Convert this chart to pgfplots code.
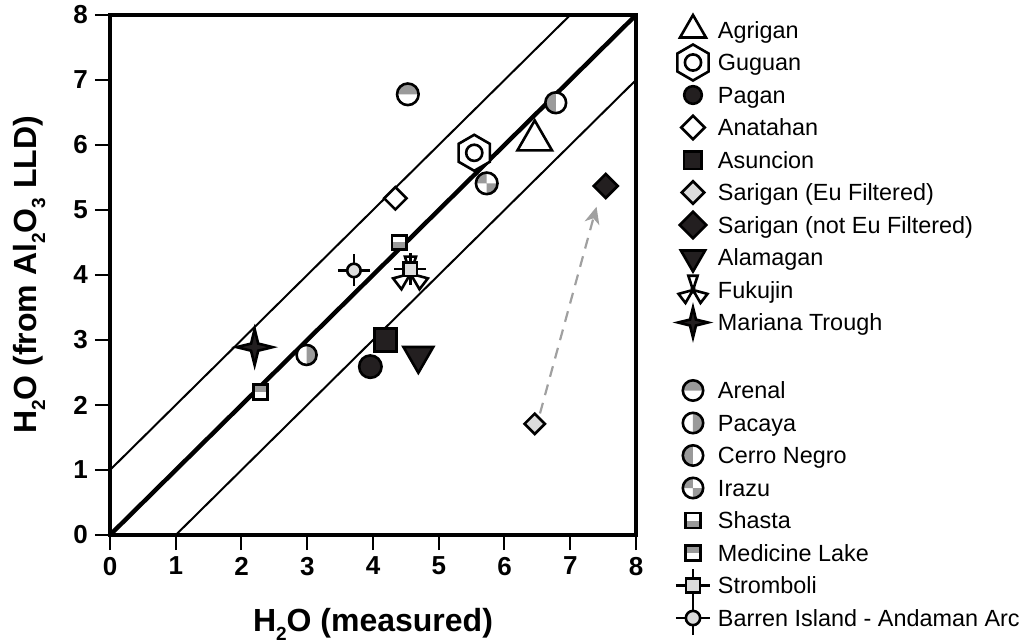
\documentclass[border=0pt]{standalone}
\usepackage{fontspec}
\setmainfont{Liberation Sans}
\usepackage{pgfplots}
\pgfplotsset{compat=1.18}
\usetikzlibrary{arrows.meta}

\definecolor{mgray}{HTML}{9A9A9A}
\definecolor{lgray}{HTML}{DCDCDC}
\definecolor{dblack}{HTML}{231F20}
\definecolor{agray}{HTML}{A0A0A0}

\newcommand\lsub[1]{\raisebox{-4.2pt}{\fontsize{9.5}{9.5}\selectfont #1}}

% ---- custom marks ----
\pgfdeclareplotmark{halftop}{%
  \pgfpathcircle{\pgfpointorigin}{\pgfplotmarksize}\pgfusepathqfill
  \begin{pgfscope}\pgfsetfillcolor{mgray}%
  \pgfpathmoveto{\pgfpoint{\pgfplotmarksize}{0pt}}%
  \pgfpatharc{0}{180}{\pgfplotmarksize}\pgfpathclose\pgfusepathqfill
  \end{pgfscope}%
  \pgfpathcircle{\pgfpointorigin}{\pgfplotmarksize}\pgfusepathqstroke}
\pgfdeclareplotmark{halfright}{%
  \pgfpathcircle{\pgfpointorigin}{\pgfplotmarksize}\pgfusepathqfill
  \begin{pgfscope}\pgfsetfillcolor{mgray}%
  \pgfpathmoveto{\pgfpoint{0pt}{\pgfplotmarksize}}%
  \pgfpatharc{90}{-90}{\pgfplotmarksize}\pgfpathclose\pgfusepathqfill
  \end{pgfscope}%
  \pgfpathcircle{\pgfpointorigin}{\pgfplotmarksize}\pgfusepathqstroke}
\pgfdeclareplotmark{halfleft}{%
  \pgfpathcircle{\pgfpointorigin}{\pgfplotmarksize}\pgfusepathqfill
  \begin{pgfscope}\pgfsetfillcolor{mgray}%
  \pgfpathmoveto{\pgfpoint{0pt}{\pgfplotmarksize}}%
  \pgfpatharc{90}{270}{\pgfplotmarksize}\pgfpathclose\pgfusepathqfill
  \end{pgfscope}%
  \pgfpathcircle{\pgfpointorigin}{\pgfplotmarksize}\pgfusepathqstroke}
\pgfdeclareplotmark{quarters}{%
  \pgfpathcircle{\pgfpointorigin}{\pgfplotmarksize}\pgfusepathqfill
  \begin{pgfscope}\pgfsetfillcolor{mgray}%
  \pgfpathmoveto{\pgfpointorigin}\pgfpathlineto{\pgfpoint{0pt}{\pgfplotmarksize}}%
  \pgfpatharc{90}{180}{\pgfplotmarksize}\pgfpathclose
  \pgfpathmoveto{\pgfpointorigin}\pgfpathlineto{\pgfpoint{0pt}{-\pgfplotmarksize}}%
  \pgfpatharc{270}{360}{\pgfplotmarksize}\pgfpathclose\pgfusepathqfill
  \end{pgfscope}%
  \pgfpathcircle{\pgfpointorigin}{\pgfplotmarksize}\pgfusepathqstroke}
\pgfdeclareplotmark{sqbot}{%
  \pgfpathrectangle{\pgfpoint{-\pgfplotmarksize}{-\pgfplotmarksize}}{\pgfpoint{2\pgfplotmarksize}{2\pgfplotmarksize}}\pgfusepathqfill
  \begin{pgfscope}\pgfsetfillcolor{mgray}%
  \pgfpathrectangle{\pgfpoint{-\pgfplotmarksize}{-\pgfplotmarksize}}{\pgfpoint{2\pgfplotmarksize}{\pgfplotmarksize}}\pgfusepathqfill
  \end{pgfscope}%
  \pgfpathrectangle{\pgfpoint{-\pgfplotmarksize}{-\pgfplotmarksize}}{\pgfpoint{2\pgfplotmarksize}{2\pgfplotmarksize}}\pgfusepathqstroke}
\pgfdeclareplotmark{sqtop}{%
  \pgfpathrectangle{\pgfpoint{-\pgfplotmarksize}{-\pgfplotmarksize}}{\pgfpoint{2\pgfplotmarksize}{2\pgfplotmarksize}}\pgfusepathqfill
  \begin{pgfscope}\pgfsetfillcolor{mgray}%
  \pgfpathrectangle{\pgfpoint{-\pgfplotmarksize}{0pt}}{\pgfpoint{2\pgfplotmarksize}{\pgfplotmarksize}}\pgfusepathqfill
  \end{pgfscope}%
  \pgfpathrectangle{\pgfpoint{-\pgfplotmarksize}{-\pgfplotmarksize}}{\pgfpoint{2\pgfplotmarksize}{2\pgfplotmarksize}}\pgfusepathqstroke}
\pgfdeclareplotmark{hexo}{%
  \pgfpathmoveto{\pgfpointpolar{90}{\pgfplotmarksize}}%
  \pgfpathlineto{\pgfpointpolar{150}{\pgfplotmarksize}}%
  \pgfpathlineto{\pgfpointpolar{210}{\pgfplotmarksize}}%
  \pgfpathlineto{\pgfpointpolar{270}{\pgfplotmarksize}}%
  \pgfpathlineto{\pgfpointpolar{330}{\pgfplotmarksize}}%
  \pgfpathlineto{\pgfpointpolar{30}{\pgfplotmarksize}}%
  \pgfpathclose\pgfusepathqfillstroke
  \pgfpathcircle{\pgfpointorigin}{0.45\pgfplotmarksize}\pgfusepathqstroke}
\pgfdeclareplotmark{sqdiamond}{%
  \pgfpathmoveto{\pgfpoint{0pt}{\pgfplotmarksize}}%
  \pgfpathlineto{\pgfpoint{\pgfplotmarksize}{0pt}}%
  \pgfpathlineto{\pgfpoint{0pt}{-\pgfplotmarksize}}%
  \pgfpathlineto{\pgfpoint{-\pgfplotmarksize}{0pt}}%
  \pgfpathclose\pgfusepathqfillstroke}
\pgfdeclareplotmark{star4}{%
  \pgfpathmoveto{\pgfpointpolar{90}{\pgfplotmarksize}}%
  \pgfpathlineto{\pgfpointpolar{45}{0.28\pgfplotmarksize}}%
  \pgfpathlineto{\pgfpointpolar{0}{\pgfplotmarksize}}%
  \pgfpathlineto{\pgfpointpolar{-45}{0.28\pgfplotmarksize}}%
  \pgfpathlineto{\pgfpointpolar{-90}{\pgfplotmarksize}}%
  \pgfpathlineto{\pgfpointpolar{-135}{0.28\pgfplotmarksize}}%
  \pgfpathlineto{\pgfpointpolar{180}{\pgfplotmarksize}}%
  \pgfpathlineto{\pgfpointpolar{135}{0.28\pgfplotmarksize}}%
  \pgfpathclose\pgfusepathqfillstroke}
\pgfdeclareplotmark{fukujin}{%
  \pgfpathmoveto{\pgfpointorigin}%
  \pgfpathlineto{\pgfpointpolar{72}{\pgfplotmarksize}}%
  \pgfpathlineto{\pgfpointpolar{108}{\pgfplotmarksize}}\pgfpathclose
  \pgfpathmoveto{\pgfpointorigin}%
  \pgfpathlineto{\pgfpointpolar{195}{\pgfplotmarksize}}%
  \pgfpathlineto{\pgfpointpolar{240}{\pgfplotmarksize}}\pgfpathclose
  \pgfpathmoveto{\pgfpointorigin}%
  \pgfpathlineto{\pgfpointpolar{300}{\pgfplotmarksize}}%
  \pgfpathlineto{\pgfpointpolar{345}{\pgfplotmarksize}}\pgfpathclose
  \pgfusepathqfillstroke}
\pgfdeclareplotmark{crosssq}{%
  \begin{pgfscope}\pgfsetlinewidth{1.1pt}%
  \pgfpathmoveto{\pgfpoint{-\pgfplotmarksize}{0pt}}\pgfpathlineto{\pgfpoint{\pgfplotmarksize}{0pt}}%
  \pgfpathmoveto{\pgfpoint{0pt}{-\pgfplotmarksize}}\pgfpathlineto{\pgfpoint{0pt}{\pgfplotmarksize}}%
  \pgfusepathqstroke\end{pgfscope}%
  \pgfpathrectangle{\pgfpoint{-0.42\pgfplotmarksize}{-0.42\pgfplotmarksize}}{\pgfpoint{0.84\pgfplotmarksize}{0.84\pgfplotmarksize}}\pgfusepathqfillstroke}
\pgfdeclareplotmark{crosscirc}{%
  \begin{pgfscope}\pgfsetlinewidth{1.1pt}%
  \pgfpathmoveto{\pgfpoint{-\pgfplotmarksize}{0pt}}\pgfpathlineto{\pgfpoint{\pgfplotmarksize}{0pt}}%
  \pgfpathmoveto{\pgfpoint{0pt}{-\pgfplotmarksize}}\pgfpathlineto{\pgfpoint{0pt}{\pgfplotmarksize}}%
  \pgfusepathqstroke\end{pgfscope}%
  \pgfpathcircle{\pgfpointorigin}{0.42\pgfplotmarksize}\pgfusepathqfillstroke}

\tikzset{mo/.style={solid, draw=black, line width=1.3pt}}
\pgfplotsset{
  mk/.style={only marks, forget plot},
  lg/.style={only marks},
}

\begin{document}
\begin{tikzpicture}
\useasboundingbox (-55pt,-53.5pt) rectangle (459pt,267.5pt);
\begin{axis}[
  scale only axis, width=263pt, height=260pt,
  xmin=0, xmax=8, ymin=0, ymax=8,
  xtick={0,1,...,8}, ytick={0,1,...,8},
  tick align=outside, xtick pos=left, ytick pos=left,
  major tick length=7.5pt,
  every tick/.style={black, line width=1pt},
  axis line style={line width=2pt},
  ticklabel style={font=\fontsize{13}{15}\selectfont\bfseries},
  /pgf/number format/assume math mode=true,
  xlabel={H\lsub{2}O (measured)},
  ylabel={H\lsub{2}O (from Al\lsub{2}O\lsub{3} LLD)},
  xlabel style={at={(axis description cs:0.5,-0.186)}, anchor=base, font=\fontsize{16}{18}\selectfont\bfseries},
  ylabel style={at={(axis description cs:-0.1394,0.5)}, anchor=base, rotate=0, font=\fontsize{16}{18}\selectfont\bfseries},
  legend style={at={(1.1084,0.9923)}, anchor=north west, draw=none, fill=none,
    inner sep=0pt, outer sep=0pt, row sep=5.25pt, column sep=0pt,
    nodes={inner sep=0pt, text height=9.5pt, text depth=1.5pt, font=\fontsize{11.7}{13}\selectfont}},
  legend cell align=left,
  legend image code/.code={%
    \pgfpathrectangle{\pgfpoint{0pt}{-1pt}}{\pgfpoint{12.5pt}{2pt}}\pgfusepath{use as bounding box}%
    \draw[#1] plot coordinates {(0pt,0pt)};},
]
% reference lines
\addplot[forget plot, black, line width=2.2pt] coordinates {(0,0) (8,8)};
\addplot[forget plot, black, line width=1pt] coordinates {(0,1) (7,8)};
\addplot[forget plot, black, line width=1pt] coordinates {(1,0) (8,7)};
% arrow
\addplot[forget plot, agray, line width=1.1pt, dash pattern=on 5.5pt off 4pt,
  -{Stealth[length=8.5pt,width=7.5pt,inset=2.5pt]}] coordinates {(6.54,1.87) (7.40,5.05)};

% data
\addplot[mk, mark=triangle, mark size=10pt, mark options={mo, fill=white}] coordinates {(6.46,6.07)};
\addplot[mk, mark=hexo, mark size=9pt, mark options={mo, fill=white}] coordinates {(5.54,5.88)};
\addplot[mk, mark=*, mark size=5.6pt, mark options={mo, fill=dblack}] coordinates {(3.96,2.59)};
\addplot[mk, mark=sqdiamond, mark size=5.6pt, mark options={mo, fill=white}] coordinates {(4.34,5.18)};
\addplot[mk, mark=square*, mark size=5.6pt, mark options={mo, fill=dblack}] coordinates {(4.19,3.00)};
\addplot[mk, mark=sqdiamond, mark size=5.1pt, mark options={mo, fill=lgray}] coordinates {(6.46,1.71)};
\addplot[mk, mark=sqdiamond, mark size=6.0pt, mark options={mo, fill=dblack}] coordinates {(7.54,5.37)};
\addplot[mk, mark=triangle*, mark size=8.6pt, mark options={mo, fill=dblack, rotate=180}] coordinates {(4.69,2.76)};
\addplot[mk, mark=fukujin, mark size=9pt, mark options={mo, fill=white}] coordinates {(4.57,4.02)};
\addplot[mk, mark=star4, mark size=9pt, mark options={mo, fill=dblack}] coordinates {(2.20,2.89)};
\addplot[mk, mark=halftop, mark size=5.4pt, mark options={mo, fill=white}] coordinates {(4.53,6.78)};
\addplot[mk, mark=halfright, mark size=5.0pt, mark options={mo, fill=white}] coordinates {(2.99,2.77)};
\addplot[mk, mark=halfleft, mark size=5.2pt, mark options={mo, fill=white}] coordinates {(6.78,6.65)};
\addplot[mk, mark=quarters, mark size=5.4pt, mark options={mo, fill=white}] coordinates {(5.73,5.41)};
\addplot[mk, mark=sqbot, mark size=3.6pt, mark options={mo, fill=white}] coordinates {(4.40,4.50)};
\addplot[mk, mark=sqtop, mark size=3.6pt, mark options={mo, fill=white}] coordinates {(2.29,2.20)};
\addplot[mk, mark=crosssq, mark size=8pt, mark options={mo, fill=lgray}] coordinates {(4.57,4.09)};
\addplot[mk, mark=crosscirc, mark size=8pt, mark options={mo, fill=lgray}] coordinates {(3.71,4.07)};

% legend
\addlegendimage{lg, mark=triangle, mark size=7.5pt, mark options={mo, fill=white}}
\addlegendentry{Agrigan}
\addlegendimage{lg, mark=hexo, mark size=9pt, mark options={mo, fill=white}}
\addlegendentry{Guguan}
\addlegendimage{lg, mark=*, mark size=4.4pt, mark options={mo, fill=dblack}}
\addlegendentry{Pagan}
\addlegendimage{lg, mark=sqdiamond, mark size=5.9pt, mark options={mo, fill=white}}
\addlegendentry{Anatahan}
\addlegendimage{lg, mark=square*, mark size=4.4pt, mark options={mo, fill=dblack}}
\addlegendentry{Asuncion}
\addlegendimage{lg, mark=sqdiamond, mark size=5.6pt, mark options={mo, fill=lgray}}
\addlegendentry{Sarigan (Eu Filtered)}
\addlegendimage{lg, mark=sqdiamond, mark size=6.6pt, mark options={mo, fill=dblack}}
\addlegendentry{Sarigan (not Eu Filtered)}
\addlegendimage{lg, mark=triangle*, mark size=7pt, mark options={mo, fill=dblack, rotate=180}}
\addlegendentry{Alamagan}
\addlegendimage{lg, mark=fukujin, mark size=7.5pt, mark options={mo, fill=white}}
\addlegendentry{Fukujin}
\addlegendimage{lg, mark=star4, mark size=7.5pt, mark options={mo, fill=dblack}}
\addlegendentry{Mariana Trough}
\addlegendimage{empty legend}
\addlegendentry[text height=11pt]{}
\addlegendimage{lg, mark=halftop, mark size=5.1pt, mark options={mo, fill=white}}
\addlegendentry{Arenal}
\addlegendimage{lg, mark=halfright, mark size=5.1pt, mark options={mo, fill=white}}
\addlegendentry{Pacaya}
\addlegendimage{lg, mark=halfleft, mark size=5.1pt, mark options={mo, fill=white}}
\addlegendentry{Cerro Negro}
\addlegendimage{lg, mark=quarters, mark size=5.1pt, mark options={mo, fill=white}}
\addlegendentry{Irazu}
\addlegendimage{lg, mark=sqbot, mark size=3.7pt, mark options={mo, fill=white}}
\addlegendentry{Shasta}
\addlegendimage{lg, mark=sqtop, mark size=3.7pt, mark options={mo, fill=white}}
\addlegendentry{Medicine Lake}
\addlegendimage{lg, mark=crosssq, mark size=8.5pt, mark options={mo, fill=lgray}}
\addlegendentry{Stromboli}
\addlegendimage{lg, mark=crosscirc, mark size=8.5pt, mark options={mo, fill=lgray}}
\addlegendentry{Barren Island - Andaman Arc}
\end{axis}
\end{tikzpicture}
\end{document}
